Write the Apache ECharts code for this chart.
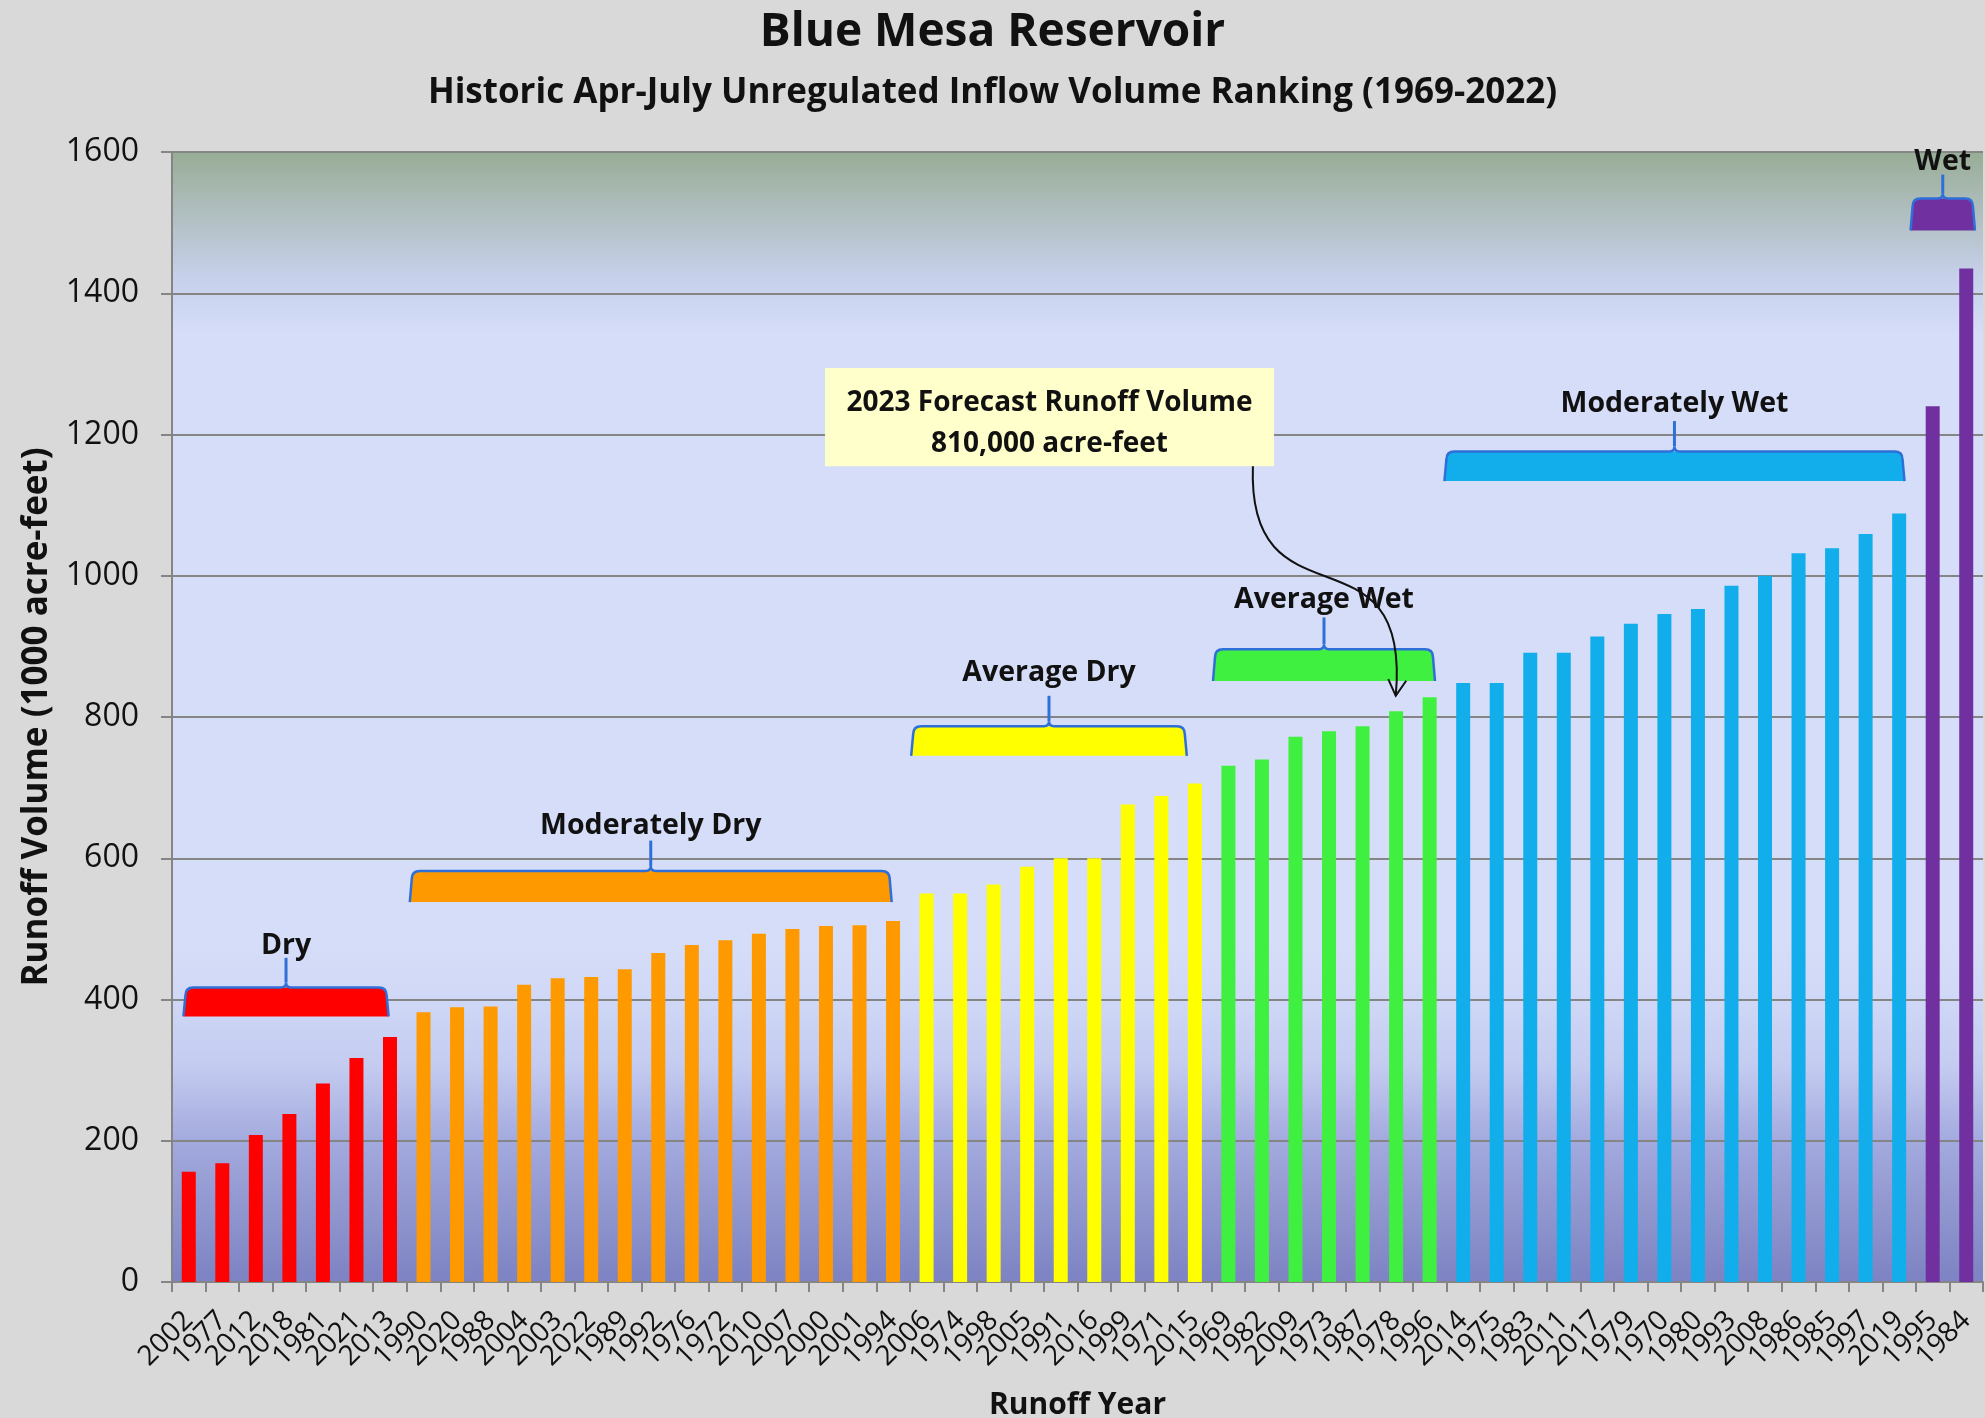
<!DOCTYPE html>
<html>
<head>
<meta charset="utf-8">
<script src="https://cdn.jsdelivr.net/npm/echarts@6/dist/echarts.min.js"></script>
<style>
  html, body { margin: 0; padding: 0; background: #d9d9d9; }
  #chart { width: 1985px; height: 1418px; }
</style>
</head>
<body>
<div id="chart"></div>
<script>
// runoff years, ranked from driest to wettest
const years = [
  '2002', '1977', '2012', '2018', '1981', '2021', '2013',
  '1990', '2020', '1988', '2004', '2003', '2022', '1989', '1992', '1976', '1972', '2010', '2007', '2000', '2001', '1994',
  '2006', '1974', '1998', '2005', '1991', '2016', '1999', '1971', '2015',
  '1969', '1982', '2009', '1973', '1987', '1978', '1996',
  '2014', '1975', '1983', '2011', '2017', '1979', '1970', '1980', '1993', '2008', '1986', '1985', '1997', '2019',
  '1995', '1984'
]
// Apr-July unregulated inflow (1000 acre-feet)
const volumes = [
  156, 168, 208, 238, 281, 317, 347,
  382, 389, 390, 421, 430, 432, 443, 466, 477, 484, 493, 500, 504, 505, 511,
  550, 550, 563, 588, 600, 600, 676, 688, 706,
  731, 740, 772, 780, 787, 808, 828,
  848, 848, 891, 891, 914, 932, 946, 953, 986, 1000, 1032, 1039, 1059, 1088,
  1240, 1435
]

// classes
const classNames = ['Dry', 'Moderately Dry', 'Average Dry', 'Average Wet', 'Moderately Wet', 'Wet']
const classCounts = [7, 15, 9, 7, 14, 2]
const classColors = ['#ff0000', '#ff9900', '#ffff00', '#40f040', '#12aeec', '#7030a0']

// brackets over each class (bar index, volume)
const bracketFrom = [-0.1, 6.65, 21.6, 30.6, 37.5, 51.4]
const bracketTo = [5.9, 20.9, 29.7, 37.1, 51.1, 53.2]
const bracketTop = [417, 582, 787, 896, 1176, 1534]
const bracketBottom = [376, 538, 745, 851, 1134, 1489]
const bracketTip = [459, 625, 830, 941, 1219, 1568]
const bracketLabelAt = [476, 646, 862, 966, 1244, 1586]

// forecast callout
const calloutLines = ['2023 Forecast Runoff Volume', '810,000 acre-feet']
const calloutBox = [18.97, 32.36, 1294, 1155] // left, right, top, bottom
const calloutLineAt = [1244, 1186]
const arrowPath = [31.73, 1155, 31.55, 919, 36.47, 1080, 35.99, 830]

const barColors = []
classCounts.forEach((n, c) => {
  for (let i = 0; i < n; i++) barColors.push(classColors[c])
})

const barData = volumes.map((v, i) => ({ value: v, itemStyle: { color: barColors[i] } }))
const bracketData = classNames.map((name, i) => [
  bracketFrom[i], bracketTo[i], bracketTop[i], bracketBottom[i], bracketTip[i], bracketLabelAt[i], i
])

const myChart = echarts.init(document.getElementById('chart'))

const outline = '#2f6fd8'

const renderBracket = (params, api) => {
  const from = api.value(0)
  const to = api.value(1)
  const c = api.value(6)
  const pL = api.coord([from, api.value(2)])
  const pR = api.coord([to, api.value(3)])
  const x0 = pL[0], x1 = pR[0], yt = pL[1], yb = pR[1]
  const xc = (x0 + x1) / 2
  const tipY = api.coord([(from + to) / 2, api.value(4)])[1]
  const labY = api.coord([(from + to) / 2, api.value(5)])[1]
  const r = 8, f = 2, n = 5
  const fill = `M${x0 - f} ${yb} L${x0} ${yt + r} Q${x0} ${yt} ${x0 + r} ${yt} L${x1 - r} ${yt} Q${x1} ${yt} ${x1} ${yt + r} L${x1 + f} ${yb} Z`
  const edge = `M${x0 - f} ${yb} L${x0} ${yt + r} Q${x0} ${yt} ${x0 + r} ${yt} L${xc - n} ${yt} Q${xc} ${yt} ${xc} ${yt - n} Q${xc} ${yt} ${xc + n} ${yt} L${x1 - r} ${yt} Q${x1} ${yt} ${x1} ${yt + r} L${x1 + f} ${yb}`
  return {
    type: 'group',
    children: [
      { type: 'path', shape: { pathData: fill }, style: { fill: classColors[c], stroke: null } },
      { type: 'path', shape: { pathData: edge }, style: { fill: null, stroke: outline, lineWidth: 2.5 } },
      { type: 'line', shape: { x1: xc, y1: yt - n, x2: xc, y2: tipY }, style: { stroke: outline, lineWidth: 3 } },
      {
        type: 'text',
        style: {
          text: classNames[c], x: xc, y: labY, align: 'center', verticalAlign: 'middle',
          font: 'bold 28.5px "Open Sans"', fill: '#111'
        }
      }
    ]
  }
}

const renderCallout = (params, api) => {
  const a = api.coord([api.value(0), api.value(2)])
  const b = api.coord([api.value(1), api.value(3)])
  const xc = (a[0] + b[0]) / 2
  const y1 = api.coord([0, calloutLineAt[0]])[1]
  const y2 = api.coord([0, calloutLineAt[1]])[1]
  return {
    type: 'group',
    children: [
      { type: 'rect', shape: { x: a[0], y: a[1], width: b[0] - a[0], height: b[1] - a[1] }, style: { fill: '#ffffcc' } },
      { type: 'text', style: { text: calloutLines[0], x: xc, y: y1, align: 'center', verticalAlign: 'middle', font: 'bold 28px "Open Sans"', fill: '#111' } },
      { type: 'text', style: { text: calloutLines[1], x: xc, y: y2, align: 'center', verticalAlign: 'middle', font: 'bold 28px "Open Sans"', fill: '#111' } }
    ]
  }
}

const renderArrow = (params, api) => {
  const p = [0, 1, 2, 3].map(k => api.coord([api.value(k * 2), api.value(k * 2 + 1)]))
  const dx = p[3][0] - p[2][0], dy = p[3][1] - p[2][1]
  const len = Math.sqrt(dx * dx + dy * dy)
  const ux = dx / len, uy = dy / len
  const h = 16, w = 9
  const bx = p[3][0] - ux * h, by = p[3][1] - uy * h
  return {
    type: 'group',
    children: [
      {
        type: 'bezierCurve',
        shape: { x1: p[0][0], y1: p[0][1], cpx1: p[1][0], cpy1: p[1][1], cpx2: p[2][0], cpy2: p[2][1], x2: p[3][0], y2: p[3][1] },
        style: { fill: null, stroke: '#111', lineWidth: 2 }
      },
      {
        type: 'polyline',
        shape: { points: [[bx - uy * w, by + ux * w], p[3], [bx + uy * w, by - ux * w]] },
        style: { fill: null, stroke: '#111', lineWidth: 2 }
      }
    ]
  }
}

myChart.setOption({
  backgroundColor: '#d9d9d9',
  textStyle: { fontFamily: 'Open Sans' },
  animation: false,
  title: [
    {
      text: 'Blue Mesa Reservoir',
      left: 'center',
      top: 0,
      textStyle: { fontSize: 46, fontWeight: 'bold', color: '#111', lineHeight: 56 }
    },
    {
      text: 'Historic Apr-July Unregulated Inflow Volume Ranking (1969-2022)',
      left: 'center',
      top: 66,
      textStyle: { fontSize: 35, fontWeight: 'bold', color: '#111', lineHeight: 44 }
    }
  ],
  grid: {
    left: 172,
    right: 2,
    top: 152,
    bottom: 136,
    containLabel: false,
    outerBoundsMode: 'none',
    show: true,
    borderWidth: 0,
    backgroundColor: new echarts.graphic.LinearGradient(0, 0, 0, 1, [
      { offset: 0, color: '#98ad96' },
      { offset: 0.05, color: '#aebdbc' },
      { offset: 0.11, color: '#c6d0ea' },
      { offset: 0.16, color: '#d5ddf8' },
      { offset: 0.7, color: '#d5ddf8' },
      { offset: 0.75, color: '#d0d8f7' },
      { offset: 0.81, color: '#c3cbf0' },
      { offset: 0.875, color: '#a3aade' },
      { offset: 0.94, color: '#8f95cd' },
      { offset: 1, color: '#7d83c3' }
    ])
  },
  xAxis: [
    {
      type: 'category',
      data: years,
      boundaryGap: true,
      name: 'Runoff Year',
      nameLocation: 'middle',
      nameGap: 108,
      nameTextStyle: { fontSize: 30, fontWeight: 'bold', color: '#111' },
      axisLine: { lineStyle: { color: '#858585', width: 2 } },
      axisTick: { show: true, length: 10, alignWithLabel: false, lineStyle: { color: '#858585', width: 2 } },
      axisLabel: { interval: 0, rotate: 45, fontSize: 28, color: '#111', margin: 34 },
      splitLine: { show: false }
    },
    {
      type: 'value',
      min: -0.5,
      max: 53.5,
      show: false
    }
  ],
  yAxis: {
    type: 'value',
    min: 0,
    max: 1600,
    interval: 200,
    name: 'Runoff Volume (1000 acre-feet)',
    nameLocation: 'middle',
    nameGap: 116,
    nameTextStyle: { fontSize: 35, fontWeight: 'bold', color: '#111' },
    axisLine: { show: true, onZero: false, lineStyle: { color: '#858585', width: 2 } },
    axisTick: { show: true, length: 11, lineStyle: { color: '#858585', width: 2 } },
    axisLabel: { fontSize: 32, color: '#111', margin: 33, formatter: v => String(v) },
    splitLine: { lineStyle: { color: '#858585', width: 2 } }
  },
  series: [
    {
      type: 'bar',
      data: barData,
      barWidth: 14,
      xAxisIndex: 0,
      z: 2
    },
    {
      type: 'custom',
      xAxisIndex: 1,
      data: bracketData,
      encode: { x: [0, 1], y: [2, 3] },
      renderItem: renderBracket,
      clip: false,
      z: 3
    },
    {
      type: 'custom',
      xAxisIndex: 1,
      data: [calloutBox],
      encode: { x: [0, 1], y: [2, 3] },
      renderItem: renderCallout,
      clip: false,
      z: 4
    },
    {
      type: 'custom',
      xAxisIndex: 1,
      data: [arrowPath],
      encode: { x: [0, 2, 4, 6], y: [1, 3, 5, 7] },
      renderItem: renderArrow,
      clip: false,
      z: 5
    }
  ]
})
</script>
</body>
</html>
